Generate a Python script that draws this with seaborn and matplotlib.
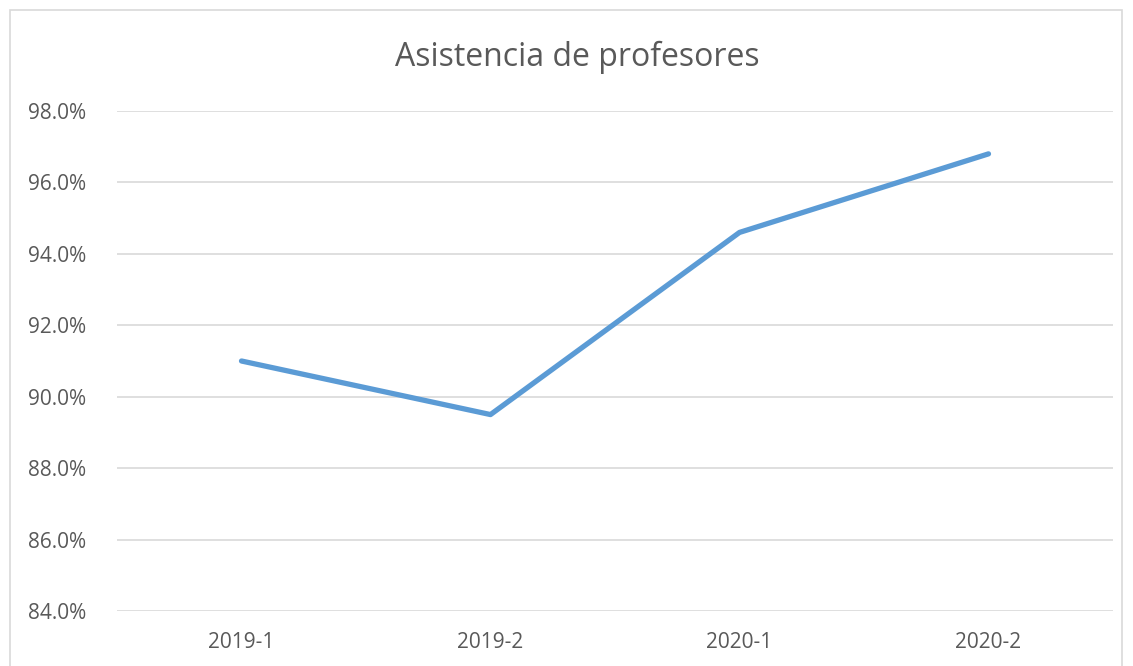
import matplotlib as mpl
mpl.use('Agg')
import matplotlib.pyplot as plt
from matplotlib.ticker import FuncFormatter
from matplotlib.patches import Rectangle
import pandas as pd
import seaborn as sns

periods = ['2019-1', '2019-2', '2020-1', '2020-2']
attendance = [91.0, 89.5, 94.6, 96.8]
y_ticks = [84, 86, 88, 90, 92, 94, 96, 98]


def main():
    sns.set_style('white')
    plt.rcParams['font.family'] = ['Open Sans', 'DejaVu Sans']
    gray = '#595959'
    blue = '#5b9bd5'

    df = pd.DataFrame({'period': periods, 'attendance': attendance})

    fig = plt.figure(figsize=(11.33, 6.66), dpi=100)
    ax = fig.add_axes([117 / 1133, 1 - 611 / 666, (1113 - 117) / 1133, 500 / 666])

    sns.lineplot(data=df, x='period', y='attendance', ax=ax, color=blue,
                 linewidth=3.8, sort=False, solid_capstyle='round')

    ax.set_xlim(-0.5, len(periods) - 0.5)
    ax.set_ylim(84, 98)
    ax.set_yticks(y_ticks)
    ax.yaxis.set_major_formatter(FuncFormatter(lambda v, p: '{:.1f}%'.format(v)))
    ax.yaxis.grid(True, color='#d9d9d9', linewidth=1.2)
    ax.xaxis.grid(False)
    for s in ax.spines.values():
        s.set_visible(False)
    ax.tick_params(axis='y', length=0, pad=22, labelsize=15, labelcolor=gray)
    ax.tick_params(axis='x', length=0, pad=15, labelsize=15, labelcolor=gray)
    ax.set_xlabel('')
    ax.set_ylabel('')

    fig.text(577 / 1133, 1 - 57 / 666, 'Asistencia de profesores', ha='center', va='center',
             fontsize=23, color=gray)

    fig.patches.append(Rectangle((10 / 1133, -0.01), 1112 / 1133, 1 - 10 / 666 + 0.01,
                                 transform=fig.transFigure, fill=False,
                                 edgecolor='#d9d9d9', linewidth=1.2))

    plt.savefig('out.png', dpi=100)


if __name__ == '__main__':
    main()
